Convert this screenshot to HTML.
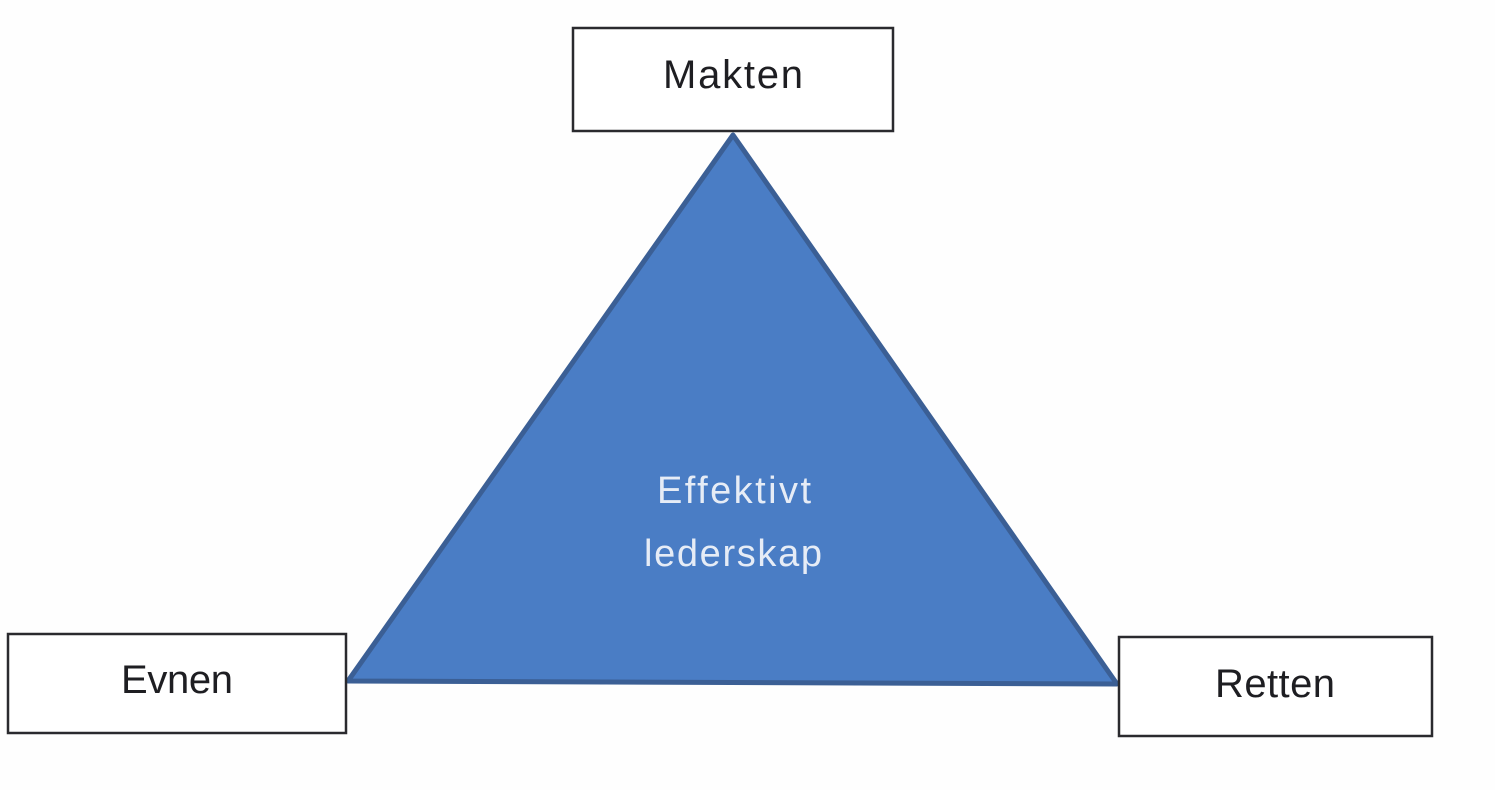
<!DOCTYPE html>
<html><head><meta charset="utf-8"><style>
html,body{margin:0;padding:0;background:#fff;}
svg{display:block;}
text{font-family:"Liberation Sans",sans-serif;}
</style></head><body>
<svg width="1495" height="790" viewBox="0 0 1495 790" xmlns="http://www.w3.org/2000/svg">
<rect width="1495" height="790" fill="#fefefe"/>
<polygon points="733,135 348,681 1117,684" fill="#4a7dc5" stroke="#3b5f95" stroke-width="5" stroke-linejoin="round"/>
<text x="734" y="503" text-anchor="middle" font-size="38" fill="#e6ecf6" textLength="154">Effektivt</text>
<text x="733" y="566" text-anchor="middle" font-size="38" fill="#e6ecf6" textLength="178">lederskap</text>
<rect x="573" y="28" width="320" height="103" fill="#fff" stroke="#2a2a2e" stroke-width="2.5"/>
<text x="733" y="88" text-anchor="middle" font-size="40" fill="#1e1e22" textLength="140">Makten</text>
<rect x="8" y="634" width="338" height="99" fill="#fff" stroke="#2a2a2e" stroke-width="2.5"/>
<text x="177" y="693" text-anchor="middle" font-size="40" fill="#1e1e22" textLength="112">Evnen</text>
<rect x="1119" y="637" width="313" height="99" fill="#fff" stroke="#2a2a2e" stroke-width="2.5"/>
<text x="1275" y="697" text-anchor="middle" font-size="40" fill="#1e1e22" textLength="120">Retten</text>
</svg>
</body></html>
